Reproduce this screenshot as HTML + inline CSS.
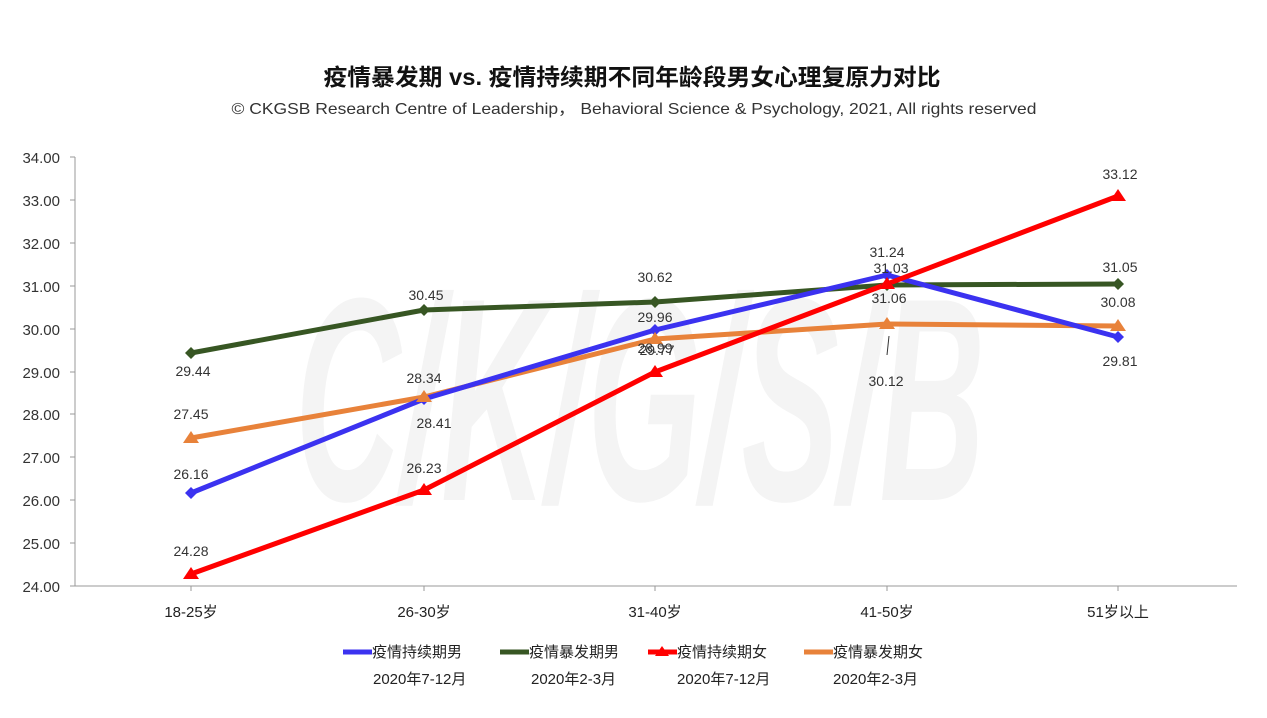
<!DOCTYPE html>
<html><head><meta charset="utf-8"><style>
body{margin:0;background:#fff;}
svg text{font-family:"Liberation Sans","Noto Sans CJK SC",sans-serif;}
</style></head><body>
<svg width="1267" height="713" viewBox="0 0 1267 713" xmlns="http://www.w3.org/2000/svg">
<text x="295" y="500" font-size="290" font-style="italic" font-weight="bold" fill="#f4f4f4" textLength="690" lengthAdjust="spacingAndGlyphs">C/K/G/S/B</text>
<text x="632" y="85" text-anchor="middle" font-size="23" font-weight="bold" fill="#111" textLength="617" lengthAdjust="spacingAndGlyphs">疫情暴发期 vs. 疫情持续期不同年龄段男女心理复原力对比</text>
<text x="634" y="114" text-anchor="middle" font-size="16" fill="#333" textLength="805" lengthAdjust="spacingAndGlyphs">© CKGSB Research Centre of Leadership， Behavioral Science &amp; Psychology, 2021, All rights reserved</text>
<g stroke="#999" stroke-width="1">
<line x1="75" y1="157" x2="75" y2="586"/>
<line x1="75" y1="586" x2="1237" y2="586"/>
<line x1="70" y1="157" x2="75" y2="157"/><line x1="70" y1="200" x2="75" y2="200"/><line x1="70" y1="243" x2="75" y2="243"/><line x1="70" y1="286" x2="75" y2="286"/><line x1="70" y1="329" x2="75" y2="329"/><line x1="70" y1="372" x2="75" y2="372"/><line x1="70" y1="414" x2="75" y2="414"/><line x1="70" y1="457" x2="75" y2="457"/><line x1="70" y1="500" x2="75" y2="500"/><line x1="70" y1="543" x2="75" y2="543"/><line x1="70" y1="586" x2="75" y2="586"/>
<line x1="191" y1="586" x2="191" y2="591"/><line x1="424" y1="586" x2="424" y2="591"/><line x1="655" y1="586" x2="655" y2="591"/><line x1="887" y1="586" x2="887" y2="591"/><line x1="1118" y1="586" x2="1118" y2="591"/>
</g>
<g font-size="15" fill="#333" text-anchor="end">
<text x="60" y="163">34.00</text><text x="60" y="206">33.00</text><text x="60" y="249">32.00</text><text x="60" y="292">31.00</text><text x="60" y="335">30.00</text><text x="60" y="378">29.00</text><text x="60" y="420">28.00</text><text x="60" y="463">27.00</text><text x="60" y="506">26.00</text><text x="60" y="549">25.00</text><text x="60" y="592">24.00</text>
</g>
<g font-size="15" fill="#222" text-anchor="middle">
<text x="191" y="617">18-25岁</text><text x="424" y="617">26-30岁</text><text x="655" y="617">31-40岁</text><text x="887" y="617">41-50岁</text><text x="1118" y="617">51岁以上</text>
</g>
<g fill="none" stroke-width="5" stroke-linejoin="round">
<polyline stroke="#e8823a" points="191,438 424,397 655,339 887,324 1118,326"/>
<polyline stroke="#375623" points="191,353 424,310 655,302 887,285 1118,284"/>
<polyline stroke="#3b32f0" points="191,493 424,399 655,330 887,275 1118,337"/>
<polyline stroke="#ff0000" points="191,574 424,490 655,372 887,284 1118,196"/>
</g>
<g fill="#375623"><path d="M191 347l6 6-6 6-6-6z"/><path d="M424 304l6 6-6 6-6-6z"/><path d="M655 296l6 6-6 6-6-6z"/><path d="M887 279l6 6-6 6-6-6z"/><path d="M1118 278l6 6-6 6-6-6z"/></g>
<g fill="#3b32f0"><path d="M191 487l6 6-6 6-6-6z"/><path d="M424 393l6 6-6 6-6-6z"/><path d="M655 324l6 6-6 6-6-6z"/><path d="M887 269l6 6-6 6-6-6z"/><path d="M1118 331l6 6-6 6-6-6z"/></g>
<g fill="#e8823a"><path d="M191 431l8 12h-16z"/><path d="M424 390l8 12h-16z"/><path d="M655 332l8 12h-16z"/><path d="M887 317l8 12h-16z"/><path d="M1118 319l8 12h-16z"/></g>
<g fill="#ff0000"><path d="M191 567l8 12h-16z"/><path d="M424 483l8 12h-16z"/><path d="M655 365l8 12h-16z"/><path d="M887 277l8 12h-16z"/><path d="M1118 189l8 12h-16z"/></g>
<g font-size="14" fill="#333" text-anchor="middle">
<text x="193" y="376">29.44</text><text x="191" y="419">27.45</text><text x="191" y="479">26.16</text><text x="191" y="556">24.28</text>
<text x="426" y="300">30.45</text><text x="424" y="383">28.34</text><text x="434" y="428">28.41</text><text x="424" y="473">26.23</text>
<text x="655" y="282">30.62</text><text x="655" y="322">29.96</text><text x="655" y="353">28.99</text><text x="657" y="355">29.77</text>
<text x="887" y="257">31.24</text><text x="891" y="273">31.03</text><text x="889" y="303">31.06</text><text x="886" y="386">30.12</text>
<text x="1120" y="179">33.12</text><text x="1120" y="272">31.05</text><text x="1118" y="307">30.08</text><text x="1120" y="366">29.81</text>
</g>
<line x1="887" y1="355" x2="889" y2="336" stroke="#333" stroke-width="1"/>
<g stroke-width="5">
<line x1="343" y1="652" x2="372" y2="652" stroke="#3b32f0"/>
<line x1="500" y1="652" x2="529" y2="652" stroke="#375623"/>
<line x1="648" y1="652" x2="677" y2="652" stroke="#ff0000"/>
<line x1="804" y1="652" x2="833" y2="652" stroke="#e8823a"/>
</g>
<path d="M662 646l7 10h-14z" fill="#ff0000"/>
<g font-size="15" fill="#222">
<text x="372" y="657">疫情持续期男</text><text x="529" y="657">疫情暴发期男</text><text x="677" y="657">疫情持续期女</text><text x="833" y="657">疫情暴发期女</text>
<text x="373" y="684">2020年7-12月</text><text x="531" y="684">2020年2-3月</text><text x="677" y="684">2020年7-12月</text><text x="833" y="684">2020年2-3月</text>
</g>
</svg>
</body></html>
